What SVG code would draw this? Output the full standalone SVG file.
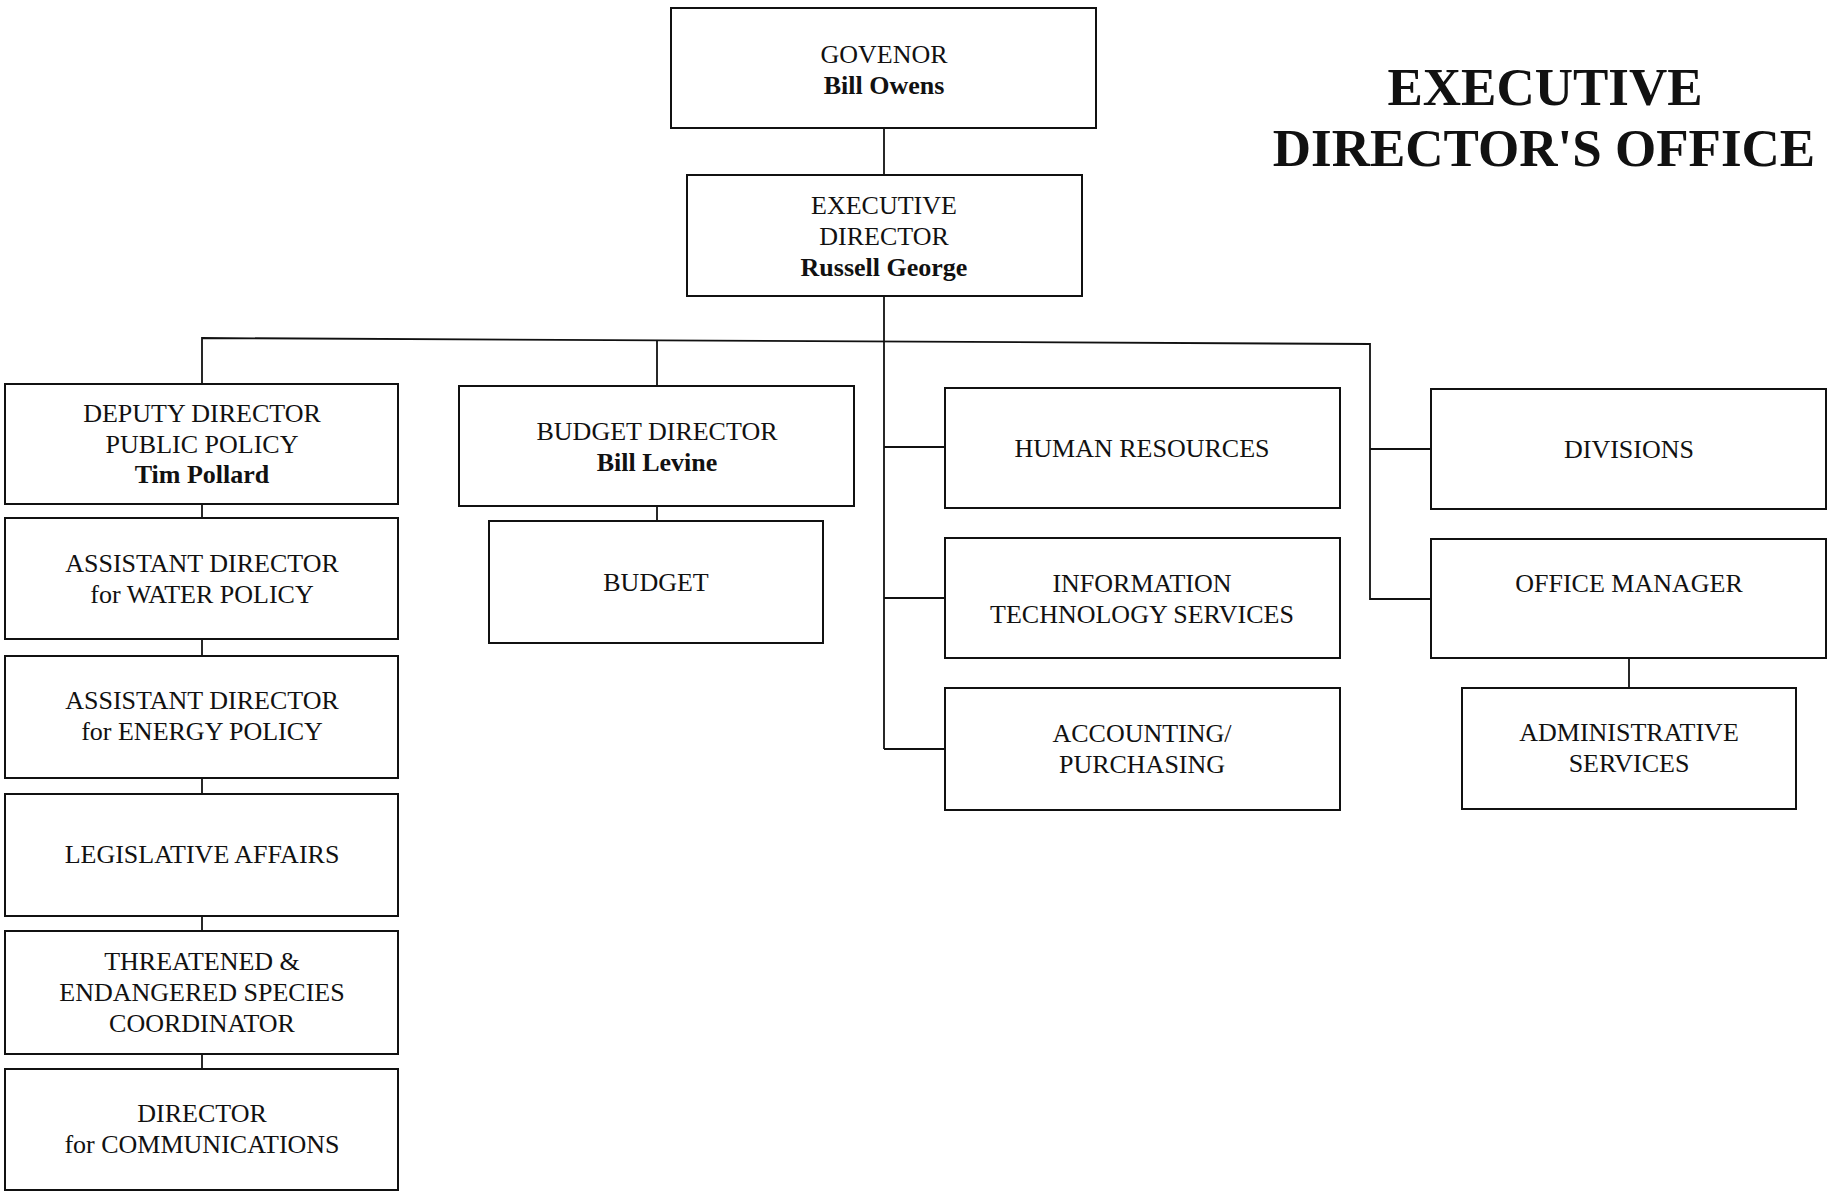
<svg xmlns="http://www.w3.org/2000/svg" width="1829" height="1193" viewBox="0 0 1829 1193">
  <style>
    .box { fill: #ffffff; stroke: #111111; stroke-width: 2; }
    .wire { fill: none; stroke: #111111; stroke-width: 1.8; }
    .lbl { font-family: "Liberation Serif", "Times New Roman", serif; font-size: 26px; fill: #111111; text-anchor: middle; }
    .name { font-weight: bold; }
    .title { font-family: "Liberation Serif", "Times New Roman", serif; font-size: 53px; font-weight: bold; fill: #111111; text-anchor: middle; }
  </style>
  <rect width="1829" height="1193" fill="#ffffff"/>

  <!-- connectors -->
  <g id="connectors">
    <line class="wire" x1="884" y1="128" x2="884" y2="175"/>
    <!-- main bus from executive director -->
    <polyline class="wire" points="202,384 202,338 1370,344 1370,599 1431,599"/>
    <line class="wire" x1="884" y1="296" x2="884" y2="749"/>
    <line class="wire" x1="884" y1="447" x2="945" y2="447"/>
    <line class="wire" x1="884" y1="598" x2="945" y2="598"/>
    <line class="wire" x1="884" y1="749" x2="945" y2="749"/>
    <line class="wire" x1="1370" y1="449" x2="1431" y2="449"/>
    <line class="wire" x1="657" y1="340" x2="657" y2="386"/>
    <line class="wire" x1="657" y1="506" x2="657" y2="521"/>
    <line class="wire" x1="1629" y1="658" x2="1629" y2="688"/>
    <!-- public policy chain -->
    <line class="wire" x1="202" y1="504" x2="202" y2="518"/>
    <line class="wire" x1="202" y1="639" x2="202" y2="656"/>
    <line class="wire" x1="202" y1="778" x2="202" y2="794"/>
    <line class="wire" x1="202" y1="916" x2="202" y2="931"/>
    <line class="wire" x1="202" y1="1054" x2="202" y2="1069"/>
  </g>

  <!-- title -->
  <g id="title">
    <text class="title" x="1545" y="105">EXECUTIVE</text>
    <text class="title" x="1544" y="166">DIRECTOR'S OFFICE</text>
  </g>

  <g id="governor">
    <rect class="box" x="671" y="8" width="425" height="120"/>
    <text class="lbl" x="884" y="63">GOVENOR</text>
    <text class="lbl name" x="884" y="94">Bill Owens</text>
  </g>

  <g id="executive-director">
    <rect class="box" x="687" y="175" width="395" height="121"/>
    <text class="lbl" x="884" y="214">EXECUTIVE</text>
    <text class="lbl" x="884" y="245">DIRECTOR</text>
    <text class="lbl name" x="884" y="276">Russell George</text>
  </g>

  <g id="deputy-director">
    <rect class="box" x="5" y="384" width="393" height="120"/>
    <text class="lbl" x="202" y="422">DEPUTY DIRECTOR</text>
    <text class="lbl" x="202" y="453">PUBLIC POLICY</text>
    <text class="lbl name" x="202" y="483">Tim Pollard</text>
  </g>

  <g id="water-policy">
    <rect class="box" x="5" y="518" width="393" height="121"/>
    <text class="lbl" x="202" y="572">ASSISTANT DIRECTOR</text>
    <text class="lbl" x="202" y="603">for WATER POLICY</text>
  </g>

  <g id="energy-policy">
    <rect class="box" x="5" y="656" width="393" height="122"/>
    <text class="lbl" x="202" y="709">ASSISTANT DIRECTOR</text>
    <text class="lbl" x="202" y="740">for ENERGY POLICY</text>
  </g>

  <g id="legislative-affairs">
    <rect class="box" x="5" y="794" width="393" height="122"/>
    <text class="lbl" x="202" y="863">LEGISLATIVE AFFAIRS</text>
  </g>

  <g id="species-coordinator">
    <rect class="box" x="5" y="931" width="393" height="123"/>
    <text class="lbl" x="202" y="970">THREATENED &amp;</text>
    <text class="lbl" x="202" y="1001">ENDANGERED SPECIES</text>
    <text class="lbl" x="202" y="1032">COORDINATOR</text>
  </g>

  <g id="communications">
    <rect class="box" x="5" y="1069" width="393" height="121"/>
    <text class="lbl" x="202" y="1122">DIRECTOR</text>
    <text class="lbl" x="202" y="1153">for COMMUNICATIONS</text>
  </g>

  <g id="budget-director">
    <rect class="box" x="459" y="386" width="395" height="120"/>
    <text class="lbl" x="657" y="440">BUDGET DIRECTOR</text>
    <text class="lbl name" x="657" y="471">Bill Levine</text>
  </g>

  <g id="budget">
    <rect class="box" x="489" y="521" width="334" height="122"/>
    <text class="lbl" x="656" y="591">BUDGET</text>
  </g>

  <g id="human-resources">
    <rect class="box" x="945" y="388" width="395" height="120"/>
    <text class="lbl" x="1142" y="457">HUMAN RESOURCES</text>
  </g>

  <g id="information-technology">
    <rect class="box" x="945" y="538" width="395" height="120"/>
    <text class="lbl" x="1142" y="592">INFORMATION</text>
    <text class="lbl" x="1142" y="623">TECHNOLOGY SERVICES</text>
  </g>

  <g id="accounting">
    <rect class="box" x="945" y="688" width="395" height="122"/>
    <text class="lbl" x="1142" y="742">ACCOUNTING/</text>
    <text class="lbl" x="1142" y="773">PURCHASING</text>
  </g>

  <g id="divisions">
    <rect class="box" x="1431" y="389" width="395" height="120"/>
    <text class="lbl" x="1629" y="458">DIVISIONS</text>
  </g>

  <g id="office-manager">
    <rect class="box" x="1431" y="539" width="395" height="119"/>
    <text class="lbl" x="1629" y="592">OFFICE MANAGER</text>
  </g>

  <g id="administrative-services">
    <rect class="box" x="1462" y="688" width="334" height="121"/>
    <text class="lbl" x="1629" y="741">ADMINISTRATIVE</text>
    <text class="lbl" x="1629" y="772">SERVICES</text>
  </g>
</svg>
